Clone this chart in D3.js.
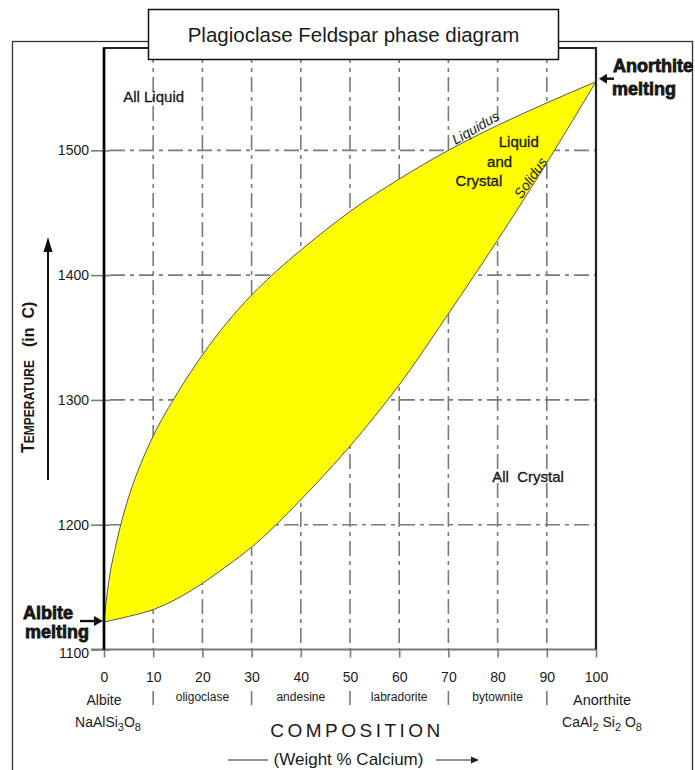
<!DOCTYPE html>
<html>
<head>
<meta charset="utf-8">
<script src="https://cdn.jsdelivr.net/npm/d3@7"></script>
<style>
  html, body { margin: 0; padding: 0; background: #fff; }
  svg { display: block; }
  text { font-family: "Liberation Sans", Arial, Helvetica, sans-serif; fill: #1a1a1a; }
</style>
</head>
<body>
<svg id="chart" width="695" height="770"></svg>
<script>
// Plagioclase feldspar binary phase diagram (albite - anorthite)

// Liquidus: composition (wt % Ca end-member) vs temperature (deg C)
const liquidusComp = [0, 0.4, 1, 2.5, 5, 7.5, 10, 15, 20, 25, 30, 35, 40, 45, 50, 60, 70, 80, 90, 100];
const liquidusTemp = [1122, 1137, 1155, 1185, 1222, 1249, 1271, 1306, 1336, 1362, 1384, 1403, 1420, 1436, 1451, 1477, 1500, 1520, 1538, 1555];

// Solidus
const solidusComp = [0, 5, 10, 15, 20, 25, 30, 40, 50, 60, 70, 80, 90, 100];
const solidusTemp = [1122, 1126.5, 1132, 1141, 1153, 1167, 1182, 1220, 1263, 1312, 1369, 1428, 1490, 1555];

// Axis ticks
const compTicks = [0, 10, 20, 30, 40, 50, 60, 70, 80, 90, 100];
const tempTicks = [1100, 1200, 1300, 1400, 1500];

// Named plagioclase members along the composition axis
const mineralNames   = ["oligoclase", "andesine", "labradorite", "bytownite"];
const mineralCenters = [20, 40, 60, 80];
const mineralBounds  = [10, 30, 50, 70, 90];

// Field labels placed in data space: [text, composition, temperature, anchor]
const fieldLabels = [
  ["All Liquid", 3.9, 1538.5, "start"],
  ["All\u00a0\u00a0Crystal", 78.9, 1234.5, "start"],
  ["Liquid", 84.3, 1503, "middle"],
  ["and", 80.4, 1487, "middle"],
  ["Crystal", 76.2, 1471.5, "middle"]
];

const svg = d3.select("#chart");

const x = d3.scaleLinear().domain([0, 100]).range([104, 596]);
const y = d3.scaleLinear().domain([1100, 1582]).range([649.5, 48]);

// Outer frame (runs past the bottom edge)
svg.append("rect")
  .attr("x", 12.5).attr("y", 41.5).attr("width", 680).attr("height", 800)
  .attr("fill", "none").attr("stroke", "#333").attr("stroke-width", 1.3);

// ---- grid ----
const grid = svg.append("g").attr("stroke", "#7a7a7a").attr("stroke-width", 1.6);
grid.selectAll(".vgrid").data(compTicks.filter(d => d > 0 && d < 100)).join("line")
  .attr("x1", d => x(d)).attr("x2", d => x(d))
  .attr("y1", y(1582)).attr("y2", y(1100))
  .attr("stroke-dasharray", "15,5,4,5");
grid.selectAll(".hgrid").data(tempTicks.filter(d => d > 1100)).join("line")
  .attr("x1", x(0) + 6).attr("x2", x(100))
  .attr("y1", d => y(d)).attr("y2", d => y(d))
  .attr("stroke-dasharray", "15,5,4,5");

// ---- two-phase field ----
const liquidus = liquidusComp.map((c, i) => [c, liquidusTemp[i]]);
const solidus = solidusComp.map((c, i) => [c, solidusTemp[i]]);
const curve = d3.line().x(d => x(d[0])).y(d => y(d[1])).curve(d3.curveMonotoneX);
const loop = curve(liquidus) + "L" + curve(solidus.slice().reverse()).slice(1) + "Z";
svg.append("path")
  .attr("d", loop)
  .attr("fill", "#ffff00")
  .attr("stroke", "#555")
  .attr("stroke-width", 1);

// ---- axes ----
const yAxis = d3.axisLeft(y).tickValues(tempTicks).tickSize(13).tickPadding(2).tickFormat(d3.format("d"));
const gy = svg.append("g").attr("transform", `translate(${x(0)},0)`).call(yAxis);
gy.select(".domain").remove();
gy.selectAll("line").attr("stroke", "#7a7a7a").attr("stroke-width", 1.6).attr("x2", 6).attr("x1", -13);
gy.selectAll("text").attr("font-size", 14).attr("fill", "#222").attr("font-family", null)
  .attr("dy", d => d === 1100 ? "0.55em" : "0.32em");

const xAxis = d3.axisBottom(x).tickValues(compTicks).tickSize(8).tickPadding(15).tickFormat(d3.format("d"));
const gx = svg.append("g").attr("transform", `translate(0,${y(1100)})`).call(xAxis);
gx.select(".domain").remove();
gx.selectAll("line").attr("stroke", "#7a7a7a").attr("stroke-width", 1.6);
gx.selectAll("text").attr("font-size", 14).attr("fill", "#222").attr("font-family", null);

// baseline (1100 deg C)
svg.append("line")
  .attr("x1", x(0) - 13).attr("x2", x(100)).attr("y1", y(1100)).attr("y2", y(1100))
  .attr("stroke", "#7a7a7a").attr("stroke-width", 2);

// plot frame: left axis, top and right edges
svg.append("path")
  .attr("d", `M${x(0)},${y(1100)}V${y(1582)}H${x(100)}V${y(1100)}`)
  .attr("fill", "none").attr("stroke", "#222").attr("stroke-width", 2.2);
svg.append("line")
  .attr("x1", x(0)).attr("x2", x(0)).attr("y1", y(1582)).attr("y2", y(1100))
  .attr("stroke", "#000").attr("stroke-width", 2.6);

// mineral separators and names
svg.append("g").selectAll("line").data(mineralBounds).join("line")
  .attr("x1", d => x(d)).attr("x2", d => x(d))
  .attr("y1", 691).attr("y2", 705)
  .attr("stroke", "#7a7a7a").attr("stroke-width", 1.6);
svg.append("g").selectAll("text").data(mineralNames).join("text")
  .attr("x", (d, i) => x(mineralCenters[i]))
  .attr("y", 701)
  .attr("text-anchor", "middle")
  .attr("font-size", 12)
  .attr("fill", "#333")
  .text(d => d);

// end-member names and formulas
function formula(g, cx, cy, parts) {
  const t = g.append("text").attr("x", cx).attr("y", cy).attr("text-anchor", "middle").attr("font-size", 14);
  parts.forEach(p => {
    const s = t.append("tspan").text(p[0]);
    if (p[1]) s.attr("font-size", 11).attr("baseline-shift", "-40%");
  });
  return t;
}
svg.append("text").attr("x", x(0)).attr("y", 705).attr("text-anchor", "middle").attr("font-size", 14).text("Albite");
formula(svg, x(0) + 4, 727, [["NaAlSi"], ["3", true], ["O"], ["8", true]]);
svg.append("text").attr("x", x(100) + 6).attr("y", 705).attr("text-anchor", "middle").attr("font-size", 14.5).text("Anorthite");
formula(svg, x(100) + 6, 727, [["CaAl"], ["2", true], [" Si"], ["2", true], [" O"], ["8", true]]);

// ---- axis titles ----
svg.append("text")
  .attr("x", 357).attr("y", 737)
  .attr("text-anchor", "middle")
  .attr("font-family", "Lato, 'Open Sans', sans-serif")
  .attr("font-size", 19)
  .attr("letter-spacing", 3.5)
  .text("COMPOSITION");
svg.append("text")
  .attr("x", 348.5).attr("y", 765)
  .attr("text-anchor", "middle")
  .attr("font-family", "Lato, 'Open Sans', sans-serif")
  .attr("font-size", 17)
  .text("(Weight % Calcium)");
svg.append("line").attr("x1", 228).attr("x2", 268).attr("y1", 760).attr("y2", 760).attr("stroke", "#222").attr("stroke-width", 1.2);
svg.append("line").attr("x1", 436).attr("x2", 473).attr("y1", 760).attr("y2", 760).attr("stroke", "#222").attr("stroke-width", 1.2);
svg.append("path").attr("d", "M479,760L471,756.5L471,763.5Z").attr("fill", "#222");

const yt = svg.append("g").attr("transform", "translate(33.5,453) rotate(-90)");
const temp = yt.append("text").attr("x", 0).attr("y", 0)
  .attr("font-weight", "bold")
  .attr("textLength", 93).attr("lengthAdjust", "spacingAndGlyphs");
temp.append("tspan").attr("font-size", 19).text("T");
temp.append("tspan").attr("font-size", 14.5).text("EMPERATURE");
yt.append("text").attr("x", 106).attr("y", 0).attr("font-size", 16).attr("font-weight", "bold")
  .text("(in\u00a0\u00a0C)");
svg.append("line").attr("x1", 48).attr("x2", 48).attr("y1", 480).attr("y2", 250).attr("stroke", "#111").attr("stroke-width", 2);
svg.append("path").attr("d", "M48,237L43.5,252L52.5,252Z").attr("fill", "#111");

// ---- field labels ----
svg.append("g").selectAll("text").data(fieldLabels).join("text")
  .attr("x", d => x(d[1])).attr("y", d => y(d[2]))
  .attr("text-anchor", d => d[3])
  .attr("font-size", 15)
  .attr("fill", "#111")
  .attr("stroke", "#111").attr("stroke-width", 0.3)
  .text(d => d[0]);

// curve names
svg.append("text")
  .attr("transform", `translate(${x(75.6)},${y(1517.6)}) rotate(-30)`)
  .attr("text-anchor", "middle").attr("dy", "0.3em")
  .attr("font-family", "'Liberation Serif', 'Times New Roman', serif")
  .attr("font-style", "italic").attr("font-size", 14)
  .text("Liquidus");
svg.append("text")
  .attr("transform", `translate(${x(86.8)},${y(1477.6)}) rotate(-55)`)
  .attr("text-anchor", "middle").attr("dy", "0.3em")
  .attr("font-family", "'Liberation Serif', 'Times New Roman', serif")
  .attr("font-style", "italic").attr("font-size", 14)
  .text("Solidus");

// ---- melting-point callouts ----
function heavy(t) {
  return t.attr("font-size", 18).attr("font-weight", "bold")
    .attr("fill", "#111").attr("stroke", "#111").attr("stroke-width", 0.8);
}
heavy(svg.append("text").attr("x", x(100) + 17).attr("y", 72).text("Anorthite"));
heavy(svg.append("text").attr("x", x(100) + 16).attr("y", 95).text("melting"));
svg.append("line").attr("x1", x(100) + 18).attr("x2", x(100) + 8).attr("y1", y(1555) - 3).attr("y2", y(1555) - 3).attr("stroke", "#111").attr("stroke-width", 2.4);
svg.append("path").attr("d", `M${x(100) + 3},${y(1555) - 3}L${x(100) + 11},${y(1555) - 8}L${x(100) + 11},${y(1555) + 2}Z`).attr("fill", "#111");

heavy(svg.append("text").attr("x", 23).attr("y", 619).text("Albite"));
heavy(svg.append("text").attr("x", 25).attr("y", 638).text("melting"));
svg.append("line").attr("x1", 80).attr("x2", x(0) - 8).attr("y1", y(1122) - 1).attr("y2", y(1122) - 1).attr("stroke", "#111").attr("stroke-width", 2.4);
svg.append("path").attr("d", `M${x(0) - 1},${y(1122) - 1}L${x(0) - 10},${y(1122) - 6}L${x(0) - 10},${y(1122) + 4}Z`).attr("fill", "#111");

// ---- title box ----
svg.append("rect")
  .attr("x", 148.5).attr("y", 9.5).attr("width", 410).attr("height", 50)
  .attr("fill", "#fff").attr("stroke", "#111").attr("stroke-width", 1.5);
svg.append("text")
  .attr("x", 353.5).attr("y", 41.5)
  .attr("text-anchor", "middle")
  .attr("font-family", "'DejaVu Sans', Verdana, sans-serif")
  .attr("font-size", 20.5)
  .attr("fill", "#111")
  .text("Plagioclase Feldspar phase diagram");
</script>
</body>
</html>
